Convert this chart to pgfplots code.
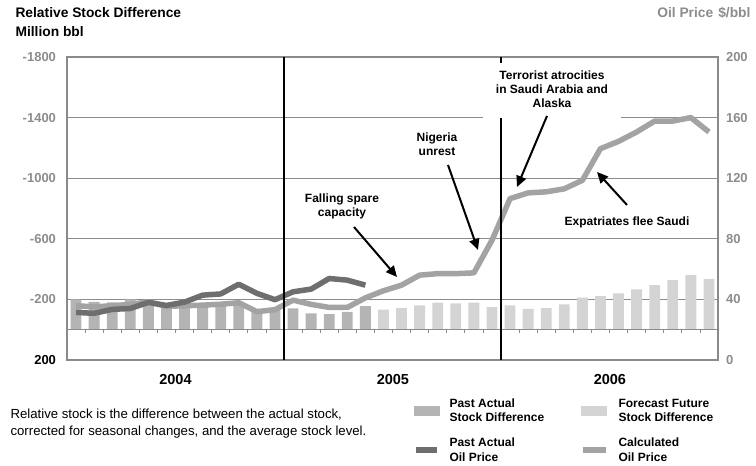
\documentclass[border=0pt]{standalone}
\usepackage{fontspec}
\setmainfont{Liberation Sans}
\usepackage{pgfplots}
\pgfplotsset{compat=1.18}
\usetikzlibrary{arrows.meta}

\definecolor{pastbar}{HTML}{B4B4B4}
\definecolor{fcbar}{HTML}{D4D4D4}
\definecolor{darkline}{HTML}{6E6E6E}
\definecolor{calcline}{HTML}{A3A3A3}
\definecolor{framegray}{HTML}{8A8A8A}
\definecolor{gridgray}{HTML}{8C8C8C}
\definecolor{labelgray}{HTML}{8C8C8C}

\newcommand{\lbl}{\bfseries\fontsize{13bp}{15bp}\selectfont}
\newcommand{\ann}{\bfseries\fontsize{12bp}{14bp}\selectfont}
\newcommand{\ttl}{\bfseries\fontsize{13.8bp}{16bp}\selectfont}

\begin{document}
\begin{tikzpicture}[x=1bp,y=1bp]
\path[use as bounding box] (0,0) rectangle (756,466);

% stock difference (left axis, reversed)
\begin{axis}[
  at={(67bp,106bp)}, anchor=south west,
  scale only axis, width=651bp, height=303bp,
  xmin=-0.5, xmax=35.5,
  ymin=-1800, ymax=200, y dir=reverse,
  axis line style={draw=framegray, line width=1.5bp},
  xtick=\empty,
  ytick={-1800,-1400,-1000,-600,-200,200},
  yticklabels={-1800,-1400,-1000,-600,-200,\textcolor{black}{200}},
  yticklabel style={font=\lbl, text=labelgray, xshift=-7.5bp},
  major tick length=0pt,
  ymajorgrids, grid style={draw=gridgray, line width=1bp},
]
\addplot[ybar, bar width=0.6, bar shift=0pt, fill=pastbar, draw=none] coordinates {
  (0,-200) (1,-184) (2,-180) (3,-200) (4,-178) (5,-155) (6,-158) (7,-163)
  (8,-174) (9,-181) (10,-138) (11,-146) (12,-141) (13,-108) (14,-103)
  (15,-118) (16,-156)
};
\addplot[ybar, bar width=0.6, bar shift=0pt, fill=fcbar, draw=none] coordinates {
  (17,-132) (18,-144) (19,-161) (20,-178) (21,-174) (22,-178) (23,-149)
  (24,-161) (25,-138) (26,-143) (27,-167) (28,-211) (29,-222) (30,-240)
  (31,-266) (32,-294) (33,-327) (34,-362) (35,-336)
};
\draw[gridgray, line width=1bp] (axis cs:-0.5,0) -- (axis cs:35.5,0);
\pgfplotsinvokeforeach{0,...,34}{
  \draw[gridgray, line width=0.8bp] (axis cs:#1+0.5,0) -- ++(0pt,-3bp);
}
\end{axis}

% oil price (right axis)
\begin{axis}[
  at={(67bp,106bp)}, anchor=south west,
  scale only axis, width=651bp, height=303bp,
  xmin=-0.5, xmax=35.5,
  ymin=0, ymax=200,
  hide x axis, axis y line*=right,
  axis line style={draw=framegray, line width=1.5bp},
  ytick={0,40,80,120,160,200},
  yticklabels={0,40,80,120,160,200},
  yticklabel style={font=\lbl, text=labelgray, xshift=4.5bp},
  major tick length=0pt,
]
\addplot[calcline, line width=5.5bp, line join=round] coordinates {
  (0,35.8) (1,35.1) (2,35.8) (3,36.7) (4,38.4) (5,35.4) (6,35.8) (7,36.2)
  (8,36.8) (9,37.8) (10,31.9) (11,33.2) (12,39.5) (13,36.7) (14,34.7)
  (15,34.7) (16,41) (17,45.7) (18,49.4) (19,56) (20,57) (21,57) (22,57.5)
  (23,79) (24,106.5) (25,110.3) (26,111) (27,113) (28,118.6) (29,139.5)
  (30,144.3) (31,150.5) (32,157.7) (33,157.7) (34,160) (35,150.5)
};
\addplot[darkline, line width=5.5bp, line join=round] coordinates {
  (0,31.4) (1,30.8) (2,33.4) (3,34) (4,38) (5,36) (6,38.2) (7,42.8)
  (8,43.6) (9,50) (10,44) (11,39.8) (12,45) (13,46.8) (14,53.8)
  (15,52.7) (16,49.4)
};
\draw[black, line width=1.5bp] (axis cs:11.5,200) -- (axis cs:11.5,0) -- ++(0pt,-3bp);
\draw[black, line width=1.5bp] (axis cs:23.5,200) -- (axis cs:23.5,0) -- ++(0pt,-3bp);
\end{axis}

% titles
\node[anchor=base west, font=\ttl] at (12,448) {Relative Stock Difference};
\node[anchor=base west, font=\ttl] at (12,429) {Million bbl};
\node[anchor=base east, font=\ttl, text=labelgray] at (754,448) {Oil Price\hspace{5bp}\$/bbl};

% years
\node[anchor=base, font=\bfseries\fontsize{14.5bp}{16bp}\selectfont] at (175.5,81) {2004};
\node[anchor=base, font=\bfseries\fontsize{14.5bp}{16bp}\selectfont] at (392.9,81) {2005};
\node[anchor=base, font=\bfseries\fontsize{14.5bp}{16bp}\selectfont] at (609.9,81) {2006};

% annotations
\fill[white] (483,403) rectangle (621,348);
\node[font=\ann, align=center] at (552,377) {Terrorist atrocities\\in Saudi Arabia and\\Alaska};
\node[font=\ann, align=center] at (342,260) {Falling spare\\capacity};
\node[font=\ann, align=center] at (437,321.5) {Nigeria\\unrest};
\node[font=\ann] at (627,244) {Expatriates flee Saudi};

\tikzset{ann arrow/.style={line width=2bp, -{Triangle[length=11bp,width=10bp]}}}
\draw[ann arrow] (354,239) -- (397,189);
\draw[ann arrow] (448,301) -- (478,216);
\draw[ann arrow] (547,350) -- (517,279);
\draw[ann arrow] (627,261) -- (597,294);

% footnote
\node[anchor=base west, font=\fontsize{13.2bp}{17bp}\selectfont] at (7,47) {Relative stock is the difference between the actual stock,};
\node[anchor=base west, font=\fontsize{13.2bp}{17bp}\selectfont] at (7,30) {corrected for seasonal changes, and the average stock level.};

% legend
\fill[pastbar] (414,60) rectangle (440,50);
\fill[fcbar] (581,60) rectangle (607,50);
\fill[darkline] (416,19) rectangle (437,13);
\fill[calcline] (583,19) rectangle (606,13);
\node[anchor=base west, font=\ann] at (446,58) {Past Actual};
\node[anchor=base west, font=\ann] at (446,44) {Stock Difference};
\node[anchor=base west, font=\ann] at (615,58) {Forecast Future};
\node[anchor=base west, font=\ann] at (615,44) {Stock Difference};
\node[anchor=base west, font=\ann] at (446,19) {Past Actual};
\node[anchor=base west, font=\ann] at (446,4) {Oil Price};
\node[anchor=base west, font=\ann] at (615,19) {Calculated};
\node[anchor=base west, font=\ann] at (615,4) {Oil Price};
\end{tikzpicture}
\end{document}
